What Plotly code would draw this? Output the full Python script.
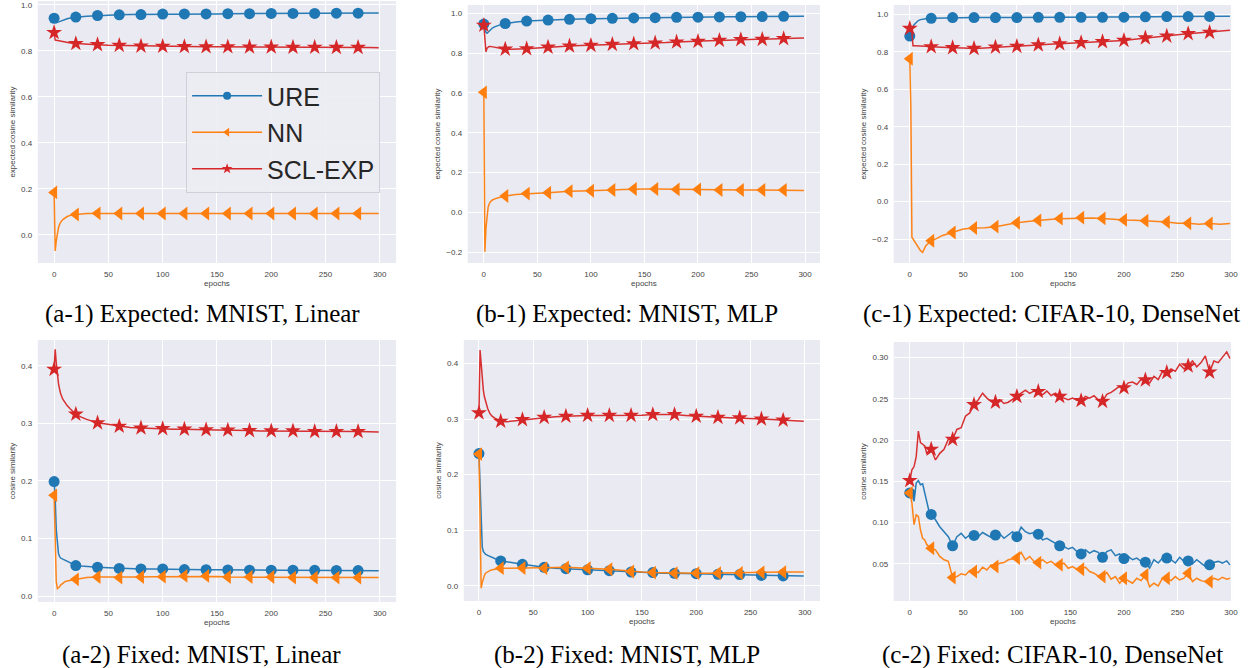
import plotly.graph_objects as go

# ---------------- data ----------------
E_S = [0, 1, 2, 3, 4, 5, 6, 8, 10, 12, 15, 20, 25, 30, 40, 50, 60, 70, 80, 90, 100,
       110, 120, 130, 140, 150, 160, 170, 180, 190, 200, 210, 220, 230, 240, 250,
       260, 270, 280, 290, 299]

# (a-1) Expected: MNIST, Linear
a1_ure = [0.942, 0.928, 0.923, 0.924, 0.926, 0.928, 0.930, 0.934, 0.937, 0.940, 0.943, 0.947, 0.949, 0.951,
          0.954, 0.956, 0.957, 0.958, 0.958, 0.959, 0.960, 0.960, 0.961, 0.961, 0.961, 0.961, 0.962, 0.962,
          0.962, 0.962, 0.963, 0.963, 0.963, 0.963, 0.963, 0.964, 0.964, 0.964, 0.964, 0.965, 0.965]
a1_nn = [0.185, -0.070, -0.025, 0.010, 0.030, 0.045, 0.055, 0.067, 0.075, 0.080, 0.085, 0.089, 0.091, 0.093,
         0.094, 0.094, 0.093, 0.093, 0.093, 0.093, 0.093, 0.093, 0.093, 0.093, 0.093, 0.093, 0.093, 0.093,
         0.093, 0.093, 0.093, 0.093, 0.093, 0.093, 0.093, 0.093, 0.093, 0.093, 0.093, 0.093, 0.093]
a1_scl = [0.880, 0.847, 0.846, 0.845, 0.844, 0.843, 0.842, 0.840, 0.838, 0.836, 0.834, 0.832, 0.830, 0.829,
          0.827, 0.825, 0.824, 0.822, 0.821, 0.821, 0.820, 0.820, 0.819, 0.819, 0.818, 0.818, 0.818, 0.817,
          0.817, 0.817, 0.817, 0.816, 0.816, 0.816, 0.816, 0.815, 0.815, 0.815, 0.815, 0.815, 0.814]

# (b-1) Expected: MNIST, MLP
b1_ure = [0.946, 0.920, 0.905, 0.900, 0.905, 0.912, 0.918, 0.926, 0.932, 0.937, 0.942, 0.949, 0.953, 0.956,
          0.961, 0.964, 0.966, 0.968, 0.970, 0.971, 0.973, 0.974, 0.975, 0.976, 0.977, 0.978, 0.978, 0.979,
          0.980, 0.980, 0.981, 0.982, 0.982, 0.983, 0.983, 0.984, 0.984, 0.985, 0.985, 0.986, 0.986]
b1_nn = [0.603, -0.198, -0.080, -0.010, 0.025, 0.042, 0.052, 0.062, 0.067, 0.071, 0.075, 0.082, 0.086, 0.089,
         0.094, 0.096, 0.098, 0.103, 0.106, 0.107, 0.108, 0.110, 0.112, 0.115, 0.117, 0.117, 0.117, 0.116,
         0.115, 0.115, 0.115, 0.113, 0.112, 0.112, 0.112, 0.112, 0.112, 0.112, 0.112, 0.111, 0.110]
b1_scl = [0.940, 0.850, 0.807, 0.825, 0.832, 0.834, 0.834, 0.832, 0.829, 0.826, 0.823, 0.820, 0.820, 0.820,
          0.822, 0.826, 0.830, 0.833, 0.836, 0.838, 0.839, 0.842, 0.844, 0.846, 0.847, 0.849, 0.851, 0.853,
          0.856, 0.857, 0.859, 0.862, 0.864, 0.866, 0.868, 0.869, 0.869, 0.871, 0.873, 0.875, 0.876]

# (c-1) Expected: CIFAR-10, DenseNet
c1_ure = [0.884, 0.905, 0.922, 0.935, 0.945, 0.952, 0.958, 0.967, 0.972, 0.975, 0.977, 0.979, 0.980, 0.981,
          0.983, 0.983, 0.983, 0.983, 0.983, 0.983, 0.983, 0.983, 0.984, 0.984, 0.984, 0.984, 0.984, 0.984,
          0.984, 0.984, 0.985, 0.986, 0.987, 0.987, 0.988, 0.988, 0.988, 0.989, 0.989, 0.989, 0.990]
c1_nn = [0.763, 0.500, -0.190, -0.200, -0.207, -0.214, -0.225, -0.245, -0.262, -0.271, -0.235, -0.209, -0.198,
         -0.182, -0.165, -0.146, -0.141, -0.140, -0.134, -0.122, -0.113, -0.107, -0.100, -0.095, -0.091, -0.090,
         -0.086, -0.088, -0.090, -0.095, -0.098, -0.100, -0.102, -0.106, -0.109, -0.116, -0.116, -0.121, -0.117,
         -0.121, -0.117]
c1_scl = [0.925, 0.920, 0.900, 0.833, 0.833, 0.833, 0.833, 0.832, 0.832, 0.831, 0.830, 0.827, 0.825, 0.823,
          0.822, 0.820, 0.818, 0.821, 0.825, 0.827, 0.829, 0.833, 0.837, 0.840, 0.843, 0.846, 0.849, 0.851,
          0.854, 0.857, 0.861, 0.867, 0.874, 0.879, 0.884, 0.891, 0.897, 0.901, 0.904, 0.910, 0.915]

# (a-2) Fixed: MNIST, Linear
a2_ure = [0.199, 0.170, 0.115, 0.088, 0.074, 0.069, 0.066, 0.064, 0.062, 0.060, 0.057, 0.053, 0.052, 0.051,
          0.050, 0.049, 0.048, 0.0475, 0.047, 0.047, 0.047, 0.0465, 0.046, 0.046, 0.0458, 0.0455, 0.0452, 0.045,
          0.045, 0.045, 0.045, 0.045, 0.045, 0.0448, 0.0446, 0.0445, 0.0445, 0.0443, 0.0443, 0.0442, 0.044]
a2_nn = [0.175, 0.080, 0.025, 0.013, 0.014, 0.016, 0.019, 0.022, 0.025, 0.026, 0.027, 0.029, 0.031, 0.032,
         0.033, 0.033, 0.032, 0.033, 0.033, 0.0335, 0.0336, 0.034, 0.035, 0.035, 0.035, 0.034, 0.033, 0.033,
         0.033, 0.033, 0.033, 0.033, 0.032, 0.032, 0.032, 0.032, 0.032, 0.032, 0.032, 0.032, 0.032]
a2_scl = [0.394, 0.429, 0.405, 0.385, 0.370, 0.360, 0.352, 0.342, 0.336, 0.331, 0.325, 0.316, 0.311, 0.307,
          0.301, 0.298, 0.295, 0.293, 0.292, 0.291, 0.291, 0.290, 0.290, 0.289, 0.289, 0.2885, 0.2885, 0.288,
          0.2875, 0.287, 0.287, 0.287, 0.287, 0.2865, 0.286, 0.286, 0.286, 0.286, 0.286, 0.2855, 0.285]

# (b-2) Fixed: MNIST, MLP
b2_ure = [0.238, 0.180, 0.100, 0.070, 0.062, 0.059, 0.057, 0.055, 0.053, 0.051, 0.049, 0.045, 0.043, 0.042,
          0.039, 0.036, 0.0335, 0.032, 0.031, 0.030, 0.029, 0.028, 0.0275, 0.026, 0.025, 0.0245, 0.024, 0.023,
          0.0228, 0.022, 0.022, 0.0215, 0.021, 0.0205, 0.0204, 0.0195, 0.019, 0.0185, 0.018, 0.018, 0.018]
b2_nn = [0.237, 0.110, -0.004, 0.006, 0.014, 0.019, 0.023, 0.026, 0.0275, 0.029, 0.030, 0.032, 0.032, 0.032,
         0.0323, 0.032, 0.032, 0.033, 0.0335, 0.033, 0.032, 0.031, 0.030, 0.028, 0.026, 0.025, 0.024, 0.0235,
         0.023, 0.023, 0.023, 0.023, 0.023, 0.023, 0.0234, 0.024, 0.0245, 0.025, 0.025, 0.025, 0.025]
b2_scl = [0.311, 0.424, 0.400, 0.370, 0.352, 0.340, 0.332, 0.319, 0.310, 0.305, 0.301, 0.296, 0.295, 0.296,
          0.299, 0.301, 0.303, 0.304, 0.305, 0.306, 0.3065, 0.3065, 0.3065, 0.3065, 0.3065, 0.307, 0.308, 0.308,
          0.308, 0.3065, 0.305, 0.304, 0.303, 0.3025, 0.302, 0.301, 0.300, 0.299, 0.298, 0.297, 0.296]

# (c-2) Fixed: CIFAR-10, DenseNet  (noisy, read every few epochs)
E_N = list(range(0, 21, 2)) + list(range(24, 297, 4)) + [299]
c2_ure = [0.136, 0.136, 0.126, 0.148, 0.151, 0.146, 0.147, 0.136, 0.124, 0.1135, 0.110,
          0.1035, 0.095, 0.089, 0.083, 0.072, 0.083, 0.087, 0.081, 0.085, 0.0845, 0.083, 0.088, 0.085, 0.082,
          0.085, 0.0865, 0.081, 0.085, 0.089, 0.083, 0.0945, 0.089, 0.0865, 0.088, 0.086, 0.079, 0.081, 0.078,
          0.075, 0.072, 0.071, 0.068, 0.070, 0.065, 0.062, 0.067, 0.063, 0.066, 0.064, 0.058, 0.065, 0.067,
          0.060, 0.062, 0.0565, 0.059, 0.055, 0.057, 0.053, 0.052, 0.045, 0.055, 0.051, 0.057, 0.057, 0.055,
          0.051, 0.058, 0.053, 0.0536, 0.050, 0.055, 0.051, 0.047, 0.0488, 0.0516, 0.053, 0.051, 0.0536,
          0.0488]
c2_nn = [0.136, 0.124, 0.0975, 0.1095, 0.1075, 0.091, 0.081, 0.079, 0.073, 0.071, 0.069,
         0.067, 0.059, 0.055, 0.053, 0.0334, 0.0346, 0.038, 0.0366, 0.042, 0.0407, 0.0395, 0.046, 0.0427,
         0.0488, 0.0468, 0.0508, 0.0516, 0.055, 0.0557, 0.057, 0.064, 0.055, 0.059, 0.053, 0.0516, 0.055,
         0.0508, 0.053, 0.0488, 0.0488, 0.0508, 0.0447, 0.0468, 0.0435, 0.0435, 0.046, 0.0407, 0.0387, 0.0354,
         0.0346, 0.0395, 0.0314, 0.0346, 0.0265, 0.0326, 0.0297, 0.0265, 0.0326, 0.0297, 0.0366, 0.0224,
         0.0265, 0.0233, 0.0326, 0.0326, 0.0297, 0.0346, 0.0305, 0.0326, 0.0387, 0.0285, 0.0326, 0.0297,
         0.0285, 0.0285, 0.0326, 0.0305, 0.0338, 0.0314, 0.0326]
c2_scl = [0.151, 0.164, 0.168, 0.180, 0.211, 0.197, 0.195, 0.193, 0.183, 0.188, 0.189,
          0.176, 0.184, 0.189, 0.201, 0.201, 0.213, 0.215, 0.229, 0.233, 0.243, 0.249, 0.257, 0.251, 0.247,
          0.246, 0.249, 0.2445, 0.246, 0.249, 0.253, 0.257, 0.2605, 0.2567, 0.2595, 0.259, 0.255, 0.2595,
          0.254, 0.257, 0.253, 0.251, 0.249, 0.251, 0.2485, 0.248, 0.253, 0.251, 0.254, 0.249, 0.247, 0.2555,
          0.258, 0.2615, 0.2655, 0.2635, 0.2695, 0.2705, 0.2675, 0.2735, 0.273, 0.2695, 0.2775, 0.2735,
          0.2835, 0.282, 0.2865, 0.2835, 0.292, 0.2865, 0.290, 0.296, 0.289, 0.294, 0.302, 0.2825, 0.296,
          0.294, 0.300, 0.307, 0.299]

for arr in (c2_ure, c2_nn, c2_scl):
    assert len(arr) == len(E_N), (len(arr), len(E_N))
for arr in (a1_ure, a1_nn, a1_scl, b1_ure, b1_nn, b1_scl, c1_ure, c1_nn, c1_scl,
            a2_ure, a2_nn, a2_scl, b2_ure, b2_nn, b2_scl):
    assert len(arr) == len(E_S), (len(arr), len(E_S))

SERIES = ["URE", "NN", "SCL-EXP"]
COLORS = ["#1f77b4", "#ff7f0e", "#d62728"]
SYMBOLS = ["circle", "triangle-left", "star"]
MSIZES = [11, 12, 12]

X_TICKS = [0, 50, 100, 150, 200, 250, 300]
Y_TICKS_E = [-0.2, 0.0, 0.2, 0.4, 0.6, 0.8, 1.0]
Y_TICKS_F = [0.0, 0.1, 0.2, 0.3, 0.4]
Y_TICKS_C2 = [0.05, 0.10, 0.15, 0.20, 0.25, 0.30]

CAPTIONS = ["(a-1) Expected: MNIST, Linear", "(b-1) Expected: MNIST, MLP",
            "(c-1) Expected: CIFAR-10, DenseNet", "(a-2) Fixed: MNIST, Linear",
            "(b-2) Fixed: MNIST, MLP", "(c-2) Fixed: CIFAR-10, DenseNet"]

panels = [
    dict(ep=E_S, ys=[a1_ure, a1_nn, a1_scl], px=(38, 398), py=(1, 263), xr=(-15, 315), yr=(-0.122, 1.017),
         yt=Y_TICKS_E, fmt=".1f", ytitle="expected cosine similarity", cap=(203, 314)),
    dict(ep=E_S, ys=[b1_ure, b1_nn, b1_scl], px=(470, 824), py=(5, 263), xr=(-15, 314), yr=(-0.255, 1.042),
         yt=Y_TICKS_E, fmt=".1f", ytitle="expected cosine similarity", cap=(630, 314)),
    dict(ep=E_S, ys=[c1_ure, c1_nn, c1_scl], px=(898, 1238), py=(5, 263), xr=(-15, 301), yr=(-0.328, 1.05),
         yt=Y_TICKS_E, fmt=".1f", ytitle="expected cosine similarity", cap=(1057, 314)),
    dict(ep=E_S, ys=[a2_ure, a2_nn, a2_scl], px=(38, 398), py=(340, 602), xr=(-15, 315), yr=(-0.0104, 0.445),
         yt=Y_TICKS_F, fmt=".1f", ytitle="cosine similarity", cap=(202, 655)),
    dict(ep=E_S, ys=[b2_ure, b2_nn, b2_scl], px=(466, 824), py=(340, 601), xr=(-14, 314), yr=(-0.027, 0.442),
         yt=Y_TICKS_F, fmt=".1f", ytitle="cosine similarity", cap=(630, 655)),
    dict(ep=E_N, ys=[c2_ure, c2_nn, c2_scl], px=(898, 1238), py=(342, 601), xr=(-15, 301), yr=(0.005, 0.319),
         yt=Y_TICKS_C2, fmt=".2f", ytitle="cosine similarity", cap=(1058, 655)),
]

W, H = 1258, 668
TICK_FONT = dict(family="Liberation Sans, Arial, sans-serif", size=8, color="#444444")

fig = go.Figure()
layout = dict(width=W, height=H, margin=dict(l=0, r=0, t=0, b=0), paper_bgcolor="white",
              plot_bgcolor="#EAEAF2", showlegend=True, annotations=[])

for k, p in enumerate(panels, start=1):
    xa, ya = f"x{k}", f"y{k}"
    ep = p["ep"]
    idx = [i for i, e in enumerate(ep) if e % 20 == 0 and e < 300]
    for s in range(3):
        vals = p["ys"][s]
        fig.add_trace(go.Scatter(x=ep, y=vals, mode="lines", xaxis=xa, yaxis=ya,
                                 line=dict(color=COLORS[s], width=1.5), opacity=0.95,
                                 showlegend=False, hoverinfo="skip"))
        fig.add_trace(go.Scatter(x=[ep[i] for i in idx], y=[vals[i] for i in idx], mode="markers",
                                 xaxis=xa, yaxis=ya, showlegend=False, hoverinfo="skip",
                                 marker=dict(color=COLORS[s], symbol=SYMBOLS[s], size=MSIZES[s],
                                             line=dict(width=0))))
    sfx = "" if k == 1 else str(k)
    layout["xaxis" + sfx] = dict(
        domain=[p["px"][0] / W, p["px"][1] / W], anchor=ya, range=list(p["xr"]),
        tickvals=X_TICKS, showgrid=True, gridcolor="white", gridwidth=1, zeroline=False,
        showline=False, ticks="outside", ticklen=3, tickcolor="rgba(0,0,0,0)",
        tickfont=TICK_FONT, title=dict(text="epochs", font=TICK_FONT, standoff=2))
    layout["yaxis" + sfx] = dict(
        domain=[1 - p["py"][1] / H, 1 - p["py"][0] / H], anchor=xa, range=list(p["yr"]),
        tickvals=p["yt"], tickformat=p["fmt"], showgrid=True, gridcolor="white", gridwidth=1,
        zeroline=False, showline=False, ticks="outside", ticklen=3, tickcolor="rgba(0,0,0,0)",
        tickfont=TICK_FONT, title=dict(text=p["ytitle"], font=TICK_FONT, standoff=4))
    layout["annotations"].append(dict(
        text=CAPTIONS[k - 1], xref="paper", yref="paper", x=p["cap"][0] / W, y=1 - p["cap"][1] / H,
        xanchor="center", yanchor="middle", showarrow=False,
        font=dict(family="Liberation Serif, Times New Roman, serif", size=25, color="black")))

# legend entries (drawn in panel a-1)
for s in range(3):
    fig.add_trace(go.Scatter(x=[None], y=[None], mode="lines+markers", name=SERIES[s],
                             xaxis="x", yaxis="y", legendgroup=SERIES[s],
                             line=dict(color=COLORS[s], width=1.5),
                             marker=dict(color=COLORS[s], symbol=SYMBOLS[s], size=8)))

layout["legend"] = dict(x=187 / W, y=1 - 72 / H, xanchor="left", yanchor="top",
                        bgcolor="rgba(236,236,243,0.9)", bordercolor="#D0D0D8", borderwidth=1,
                        font=dict(family="Liberation Sans, Arial, sans-serif", size=25, color="#262626"),
                        tracegroupgap=1, itemwidth=70)

fig.update_layout(**layout)
fig.write_html("out.html", config={"displayModeBar": False},
               post_script="document.body.style.margin='0px';")
